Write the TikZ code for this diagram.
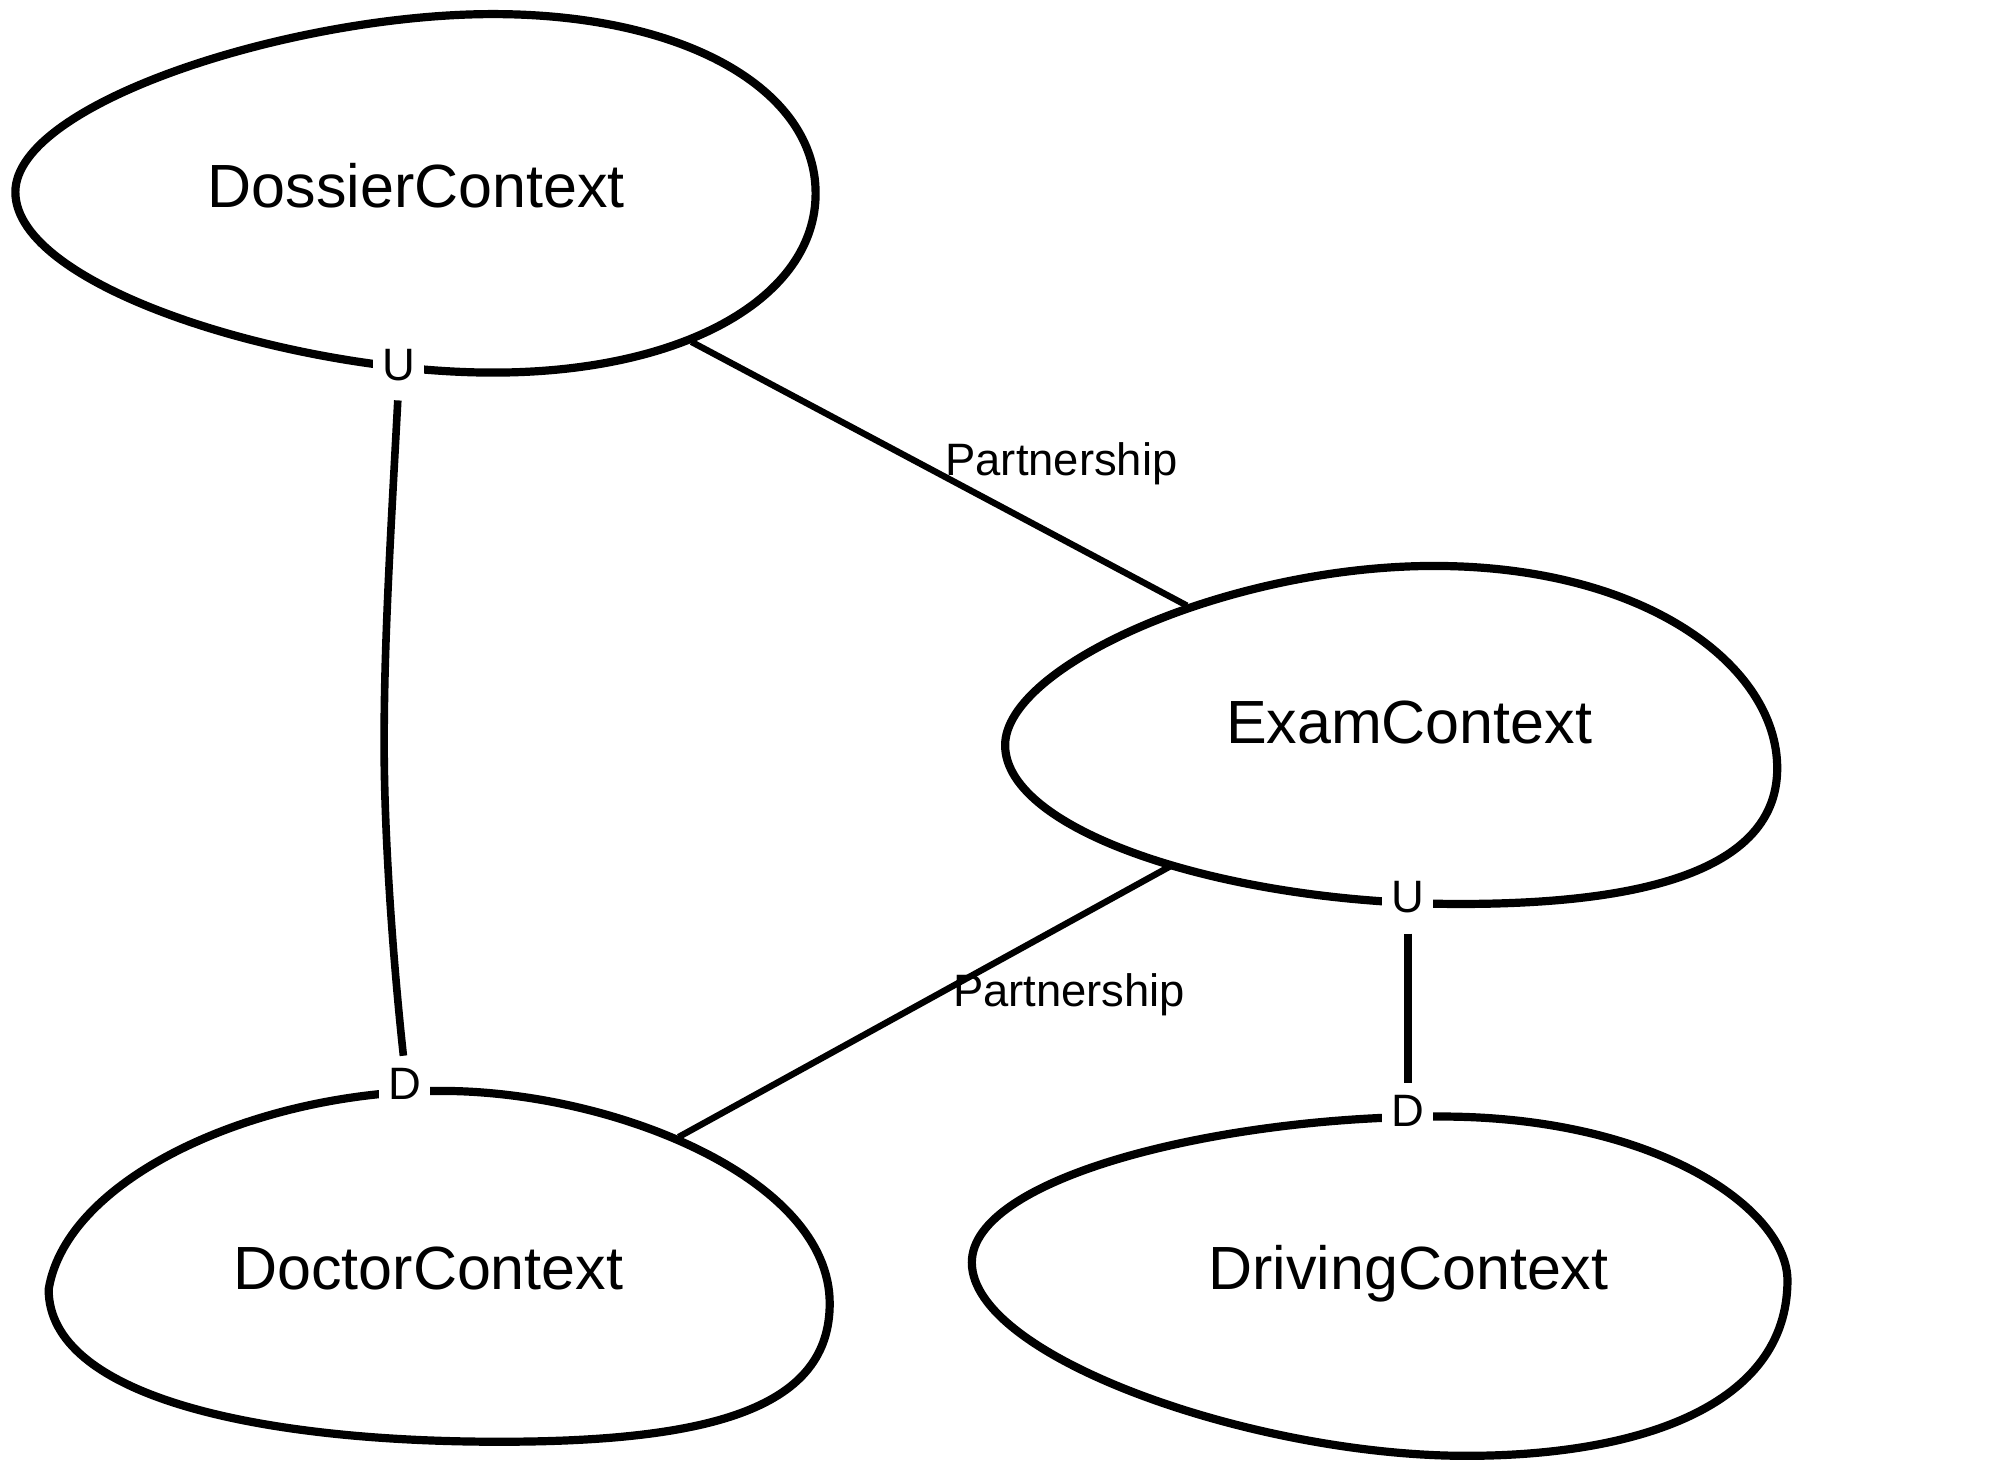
\documentclass[tikz,border=0pt]{standalone}
\usepackage{fontspec}
\setmainfont{Liberation Sans}
\begin{document}
\begin{tikzpicture}[x=0.6402pt,y=-0.6402pt,
  ctx/.style={line width=4.1pt},
  bigtext/.style={inner sep=0pt, anchor=base, font=\fontsize{30.5pt}{36pt}\selectfont},
  rel/.style={line width=3.2pt},
  ud/.style={line width=3.8pt},
  udlabel/.style={fill=white, inner xsep=4.5pt, inner ysep=0pt, text height=16.3pt, text depth=0pt, anchor=base, font=\fontsize{22.7pt}{27pt}\selectfont},
  rellabel/.style={inner sep=0pt, anchor=base west, font=\fontsize{22.7pt}{27pt}\selectfont}]
\useasboundingbox (0,0) rectangle (1562,1153.6);

% context blobs
\draw[ctx] (12,150) .. controls (12,80) and (230,11) .. (385,11)
  .. controls (535,11) and (637,70) .. (637,151)
  .. controls (637,232) and (535,291) .. (385,291)
  .. controls (230,291) and (12,225) .. cycle;
\draw[ctx] (785,582) .. controls (785,520) and (960,442) .. (1120,442)
  .. controls (1285,442) and (1388,520) .. (1388,600)
  .. controls (1388,688) and (1260,706) .. (1140,706)
  .. controls (960,706) and (785,650) .. cycle;
\draw[ctx] (38,1007) .. controls (52,920) and (200,852) .. (345,852)
  .. controls (478,852) and (648,920) .. (648,1018)
  .. controls (648,1098) and (560,1126) .. (390,1126)
  .. controls (200,1126) and (38,1090) .. cycle;
\draw[ctx] (759,986) .. controls (759,920) and (950,872) .. (1125,872)
  .. controls (1295,872) and (1396,945) .. (1396,1000)
  .. controls (1396,1098) and (1280,1137) .. (1145,1137)
  .. controls (980,1137) and (759,1060) .. cycle;

% context names
\node[bigtext] (dossier) at (325,162) {DossierContext};
\node[bigtext] (exam) at (1100.5,581) {ExamContext};
\node[bigtext] (doctor) at (334.5,1007) {DoctorContext};
\node[bigtext] (driving) at (1100,1007) {DrivingContext};

% U / D labels
\node[udlabel] (dossierU) at (311.5,296.8) {U};
\node[udlabel] (doctorD) at (316,859) {D};
\node[udlabel] (examU) at (1099.5,713) {U};
\node[udlabel] (drivingD) at (1099.5,880) {D};

% upstream / downstream connectors
\coordinate (udmid) at (300,580);
\draw[ud, shorten <=10pt, shorten >=5.6pt] (dossierU.south) .. controls (305,420) and (300,500) .. (udmid)
  .. controls (300,660) and (308,760) .. (doctorD.north);
\draw[ud, shorten <=10.2pt, shorten >=5.6pt] (examU.south) -- (drivingD.north);

% partnerships
\coordinate (p1a) at (540,267);
\coordinate (p1b) at (927,473);
\coordinate (p2a) at (915,676);
\coordinate (p2b) at (530,888);
\draw[rel] (p1a) -- (p1b);
\draw[rel] (p2a) -- (p2b);
\node[rellabel] (part1) at (738,371) {Partnership};
\node[rellabel] (part2) at (744,786) {Partnership};
\end{tikzpicture}
\end{document}
